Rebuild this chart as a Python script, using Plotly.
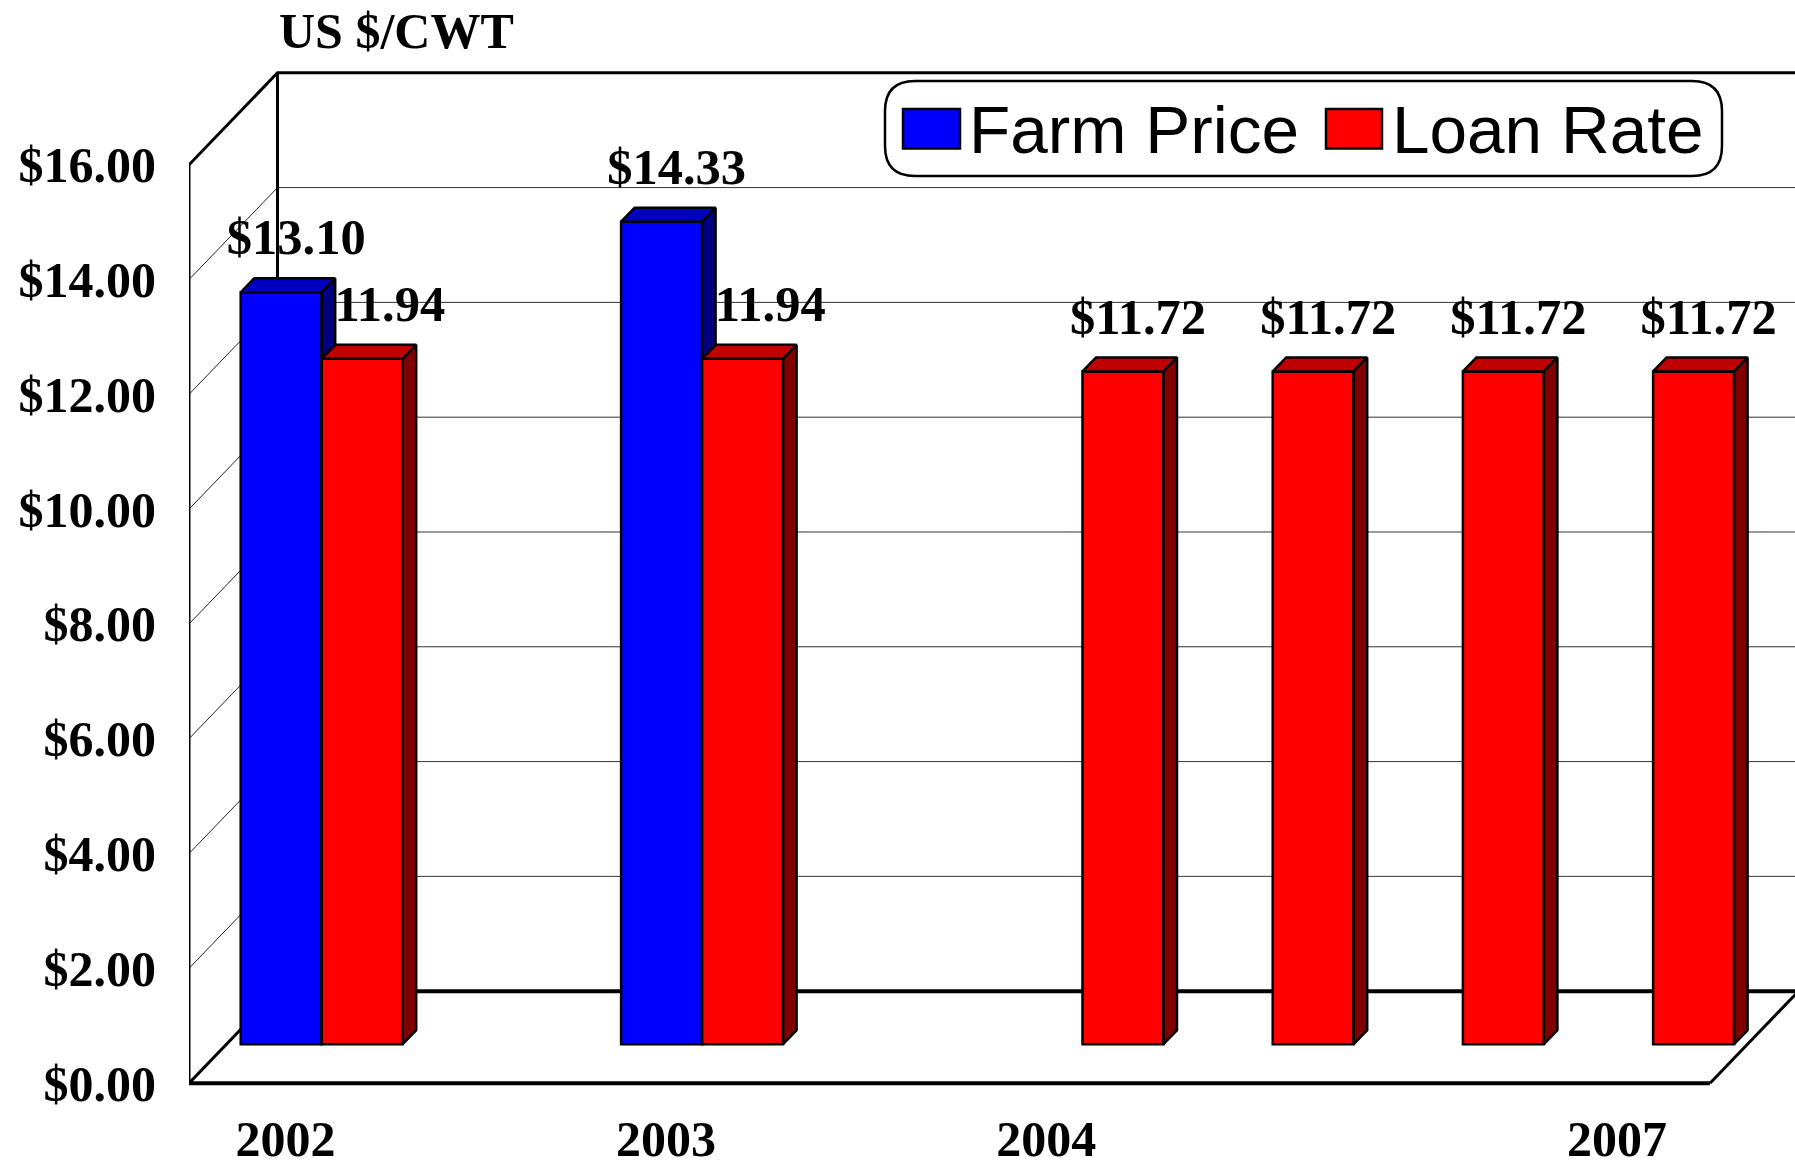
import plotly.graph_objects as go

# ---------- data ----------
categories = ["2002", "", "2003", "", "2004", "2005", "2006", "2007"]
farm_price = [13.10, None, 14.33, None, None, None, None, None]
loan_rate = [11.94, None, 11.94, None, 11.72, 11.72, 11.72, 11.72]
tick_labels = ["2002", "2003", "2004", "2007"]
y_ticks = [0, 2, 4, 6, 8, 10, 12, 14, 16]

# ---------- layout geometry ----------
W, H = 1795, 1161
PX_X = 190.2                            # pixels per category
PX_Y = 57.39                            # pixels per $1
X0 = 285.5                              # pixel of category 0 on the front plane
y_range = [-0.38, 18.0]
L, R, T, B = 189, 1795, 50, 1083 - y_range[0] * PX_Y     # plot-area pixel box
x_range = [(L - X0) / PX_X, (R - X0) / PX_X]

def dx(px): return px / PX_X
def dy(px): return px / PX_Y
def paper_x(px): return (px - L) / (R - L)
def paper_y(px): return (B - px) / (B - T)

bar_w = dx(81)
shift_x, shift_y = dx(36.2), dy(39)     # bars stand inside the floor
bar_dx, bar_dy = dx(13.5), dy(14)       # bar depth
wall_dx, wall_dy = dx(88.5), dy(92)     # chart depth
label_dx, label_dy = dx(15), dy(50.5)

FONT = "Liberation Serif"
BLACK = "#000000"
fig = go.Figure()

def line(xs, ys, width, color=BLACK):
    fig.add_trace(go.Scatter(x=xs, y=ys, mode="lines", line=dict(color=color, width=width),
                             cliponaxis=False, showlegend=False, hoverinfo="skip",
                             xaxis="x", yaxis="y"))

# back wall grid and side-wall diagonals
x_left, x_right = x_range
x_back = x_left + wall_dx
for v in y_ticks[1:-1]:
    line([x_back, x_right], [v + wall_dy, v + wall_dy], 1, "#333333")
    line([x_left, x_back], [v, v + wall_dy], 1, "#222222")

# frame
top = y_ticks[-1]
line([x_left, x_left], [0, top], 3)
line([x_back, x_back], [wall_dy, top + wall_dy], 3)
line([x_left, x_back, x_right], [top, top + wall_dy, top + wall_dy], 3)
floor_end = dx(1710 - X0)
line([x_left, floor_end], [0, 0], 4)
line([x_back, x_right], [wall_dy, wall_dy], 4)
line([x_left, x_back], [0, wall_dy], 3)
line([floor_end, floor_end + wall_dx], [0, wall_dy], 3)

# data labels sit under the bars (the blue side hides the "$" of 11.94)
def labels(values, centre):
    pts = [(i + centre + shift_x + label_dx, v + shift_y + label_dy, f"${v:.2f}")
           for i, v in enumerate(values) if v is not None]
    fig.add_trace(go.Scatter(x=[p[0] for p in pts], y=[p[1] for p in pts], text=[p[2] for p in pts],
                             mode="text", textposition="middle center", cliponaxis=False,
                             textfont=dict(family=FONT, size=50.5, color=BLACK, weight="bold"),
                             showlegend=False, hoverinfo="skip", xaxis="x", yaxis="y"))

labels(loan_rate, bar_w / 2)
labels(farm_price, -bar_w / 2)

def bars(values, name, offset, front, top_col, side_col, xa, ya):
    idx = [i for i, v in enumerate(values) if v is not None]
    vals = [values[i] for i in idx]
    fig.add_trace(go.Bar(x=idx, y=vals, name=name, width=bar_w, offset=offset,
                         marker=dict(color=front, line=dict(color=BLACK, width=2.5)),
                         showlegend=False, xaxis=xa, yaxis=ya))
    tx, ty, sx, sy = [], [], [], []
    for i, v in zip(idx, vals):
        a, b = i + offset, i + offset + bar_w
        tx += [a, b, b + bar_dx, a + bar_dx, a, None]
        ty += [v, v, v + bar_dy, v + bar_dy, v, None]
        sx += [b, b + bar_dx, b + bar_dx, b, b, None]
        sy += [0, bar_dy, v + bar_dy, v, 0, None]
    for xs, ys, col in ((tx, ty, top_col), (sx, sy, side_col)):
        fig.add_trace(go.Scatter(x=xs, y=ys, mode="lines", fill="toself", fillcolor=col,
                                 line=dict(color=BLACK, width=2.5), showlegend=False,
                                 hoverinfo="skip", xaxis=xa, yaxis=ya))

bars(farm_price, "Farm Price", -bar_w, "#0000ff", "#0000c0", "#000080", "x2", "y2")
bars(loan_rate, "Loan Rate", 0, "#ff0000", "#c00000", "#800000", "x3", "y3")

# legend, drawn by hand for its rounded box and large keys
bx0, bx1, by0, by1, r = 885, 1722, 81, 176, 30
box = (f"M {paper_x(bx0 + r)} {paper_y(by0)} L {paper_x(bx1 - r)} {paper_y(by0)} "
       f"Q {paper_x(bx1)} {paper_y(by0)} {paper_x(bx1)} {paper_y(by0 + r)} "
       f"L {paper_x(bx1)} {paper_y(by1 - r)} Q {paper_x(bx1)} {paper_y(by1)} {paper_x(bx1 - r)} {paper_y(by1)} "
       f"L {paper_x(bx0 + r)} {paper_y(by1)} Q {paper_x(bx0)} {paper_y(by1)} {paper_x(bx0)} {paper_y(by1 - r)} "
       f"L {paper_x(bx0)} {paper_y(by0 + r)} Q {paper_x(bx0)} {paper_y(by0)} {paper_x(bx0 + r)} {paper_y(by0)} Z")
shapes = [dict(type="path", path=box, xref="paper", yref="paper", fillcolor="white",
               line=dict(color=BLACK, width=2.5), layer="above")]
annotations = []
for name, col, k0, k1, tx in (("Farm Price", "#0000ff", 903, 960, 967),
                              ("Loan Rate", "#ff0000", 1326, 1382, 1390)):
    shapes.append(dict(type="rect", xref="paper", yref="paper", x0=paper_x(k0), x1=paper_x(k1),
                       y0=paper_y(148.5), y1=paper_y(109), fillcolor=col,
                       line=dict(color=BLACK, width=2.5), layer="above"))
    annotations.append(dict(text=name, xref="paper", yref="paper", x=paper_x(tx), y=paper_y(129),
                            xanchor="left", yanchor="middle", showarrow=False,
                            font=dict(family="Liberation Sans", size=67.5, color=BLACK)))
annotations.append(dict(text="<b>US $/CWT</b>", xref="paper", yref="paper",
                        x=paper_x(396), y=paper_y(31), xanchor="center", yanchor="middle",
                        showarrow=False, font=dict(family=FONT, size=50, color=BLACK)))

hidden = dict(visible=False, showgrid=False, zeroline=False)
fig.update_layout(
    width=W, height=H, autosize=False, showlegend=False, barmode="overlay",
    paper_bgcolor="white", plot_bgcolor="white",
    margin=dict(l=L, r=W - R, t=T, b=H - B, pad=0, autoexpand=False),
    shapes=shapes, annotations=annotations,
    xaxis=dict(range=x_range, tickmode="array", automargin=False,
               tickvals=[categories.index(t) for t in tick_labels], ticktext=tick_labels,
               showgrid=False, zeroline=False, showline=False, ticks="", ticklabelstandoff=0,
               tickfont=dict(family=FONT, size=50, color=BLACK, weight="bold")),
    yaxis=dict(range=y_range, tickmode="array", tickvals=y_ticks, automargin=False,
               ticktext=[f"${v:.2f}" for v in y_ticks],
               showgrid=False, zeroline=False, showline=False, ticks="", ticklabelstandoff=32,
               tickfont=dict(family=FONT, size=50, color=BLACK, weight="bold")),
    xaxis2=dict(range=[x_range[0] - shift_x, x_range[1] - shift_x], overlaying="x", anchor="y2", **hidden),
    yaxis2=dict(range=[y_range[0] - shift_y, y_range[1] - shift_y], overlaying="y", anchor="x2", **hidden),
    xaxis3=dict(range=[x_range[0] - shift_x, x_range[1] - shift_x], overlaying="x", anchor="y3", **hidden),
    yaxis3=dict(range=[y_range[0] - shift_y, y_range[1] - shift_y], overlaying="y", anchor="x3", **hidden),
)

fig.write_html("out.html", config={"displayModeBar": False},
               post_script="document.body.style.margin='0';document.documentElement.style.overflow='hidden';")
